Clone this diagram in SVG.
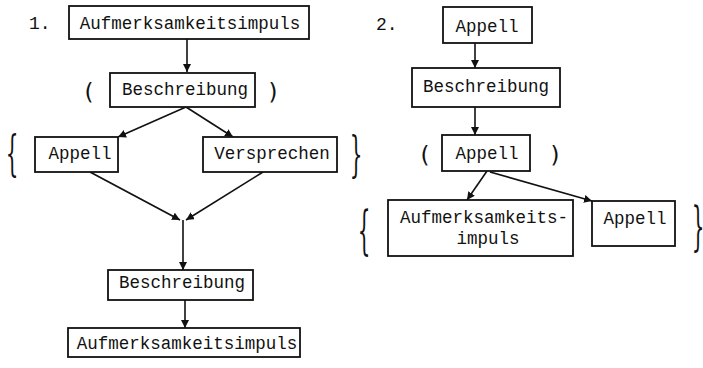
<svg xmlns="http://www.w3.org/2000/svg" width="703" height="368" viewBox="0 0 703 368">
<defs>
<style>
.box{fill:#fff;stroke:#111;stroke-width:1.8}
.t{font-family:"Liberation Mono","DejaVu Sans Mono",monospace;font-size:17.5px;fill:#111;text-anchor:middle}
.num{font-family:"Liberation Mono","DejaVu Sans Mono",monospace;font-size:18px;fill:#111}
.par{font-family:"DejaVu Sans","Liberation Sans",sans-serif;font-size:23px;fill:#111;text-anchor:middle}
.br{font-family:"DejaVu Serif","Liberation Serif",serif;font-size:50px;fill:#111;text-anchor:middle}
.c{stroke:#111;stroke-width:1.6;fill:none;marker-end:url(#ah)}
</style>
<marker id="ah" viewBox="0 0 10 10" refX="10" refY="5" markerWidth="8" markerHeight="8" markerUnits="userSpaceOnUse" orient="auto">
<path d="M0,0 L10,5 L0,10 z" fill="#111"/>
</marker>
</defs>

<g id="connectors">
<line class="c" x1="187" y1="39" x2="187" y2="72"/>
<line class="c" x1="186" y1="107" x2="118" y2="137"/>
<line class="c" x1="186" y1="107" x2="233" y2="137"/>
<line class="c" x1="90" y1="172" x2="180" y2="220"/>
<line class="c" x1="263" y1="172" x2="186" y2="220"/>
<line class="c" x1="183" y1="220" x2="183" y2="270"/>
<line class="c" x1="185" y1="300" x2="185" y2="328"/>
<line class="c" x1="475" y1="43" x2="475" y2="68"/>
<line class="c" x1="475" y1="107" x2="475" y2="135"/>
<line class="c" x1="487" y1="171" x2="467" y2="200"/>
<line class="c" x1="490" y1="172" x2="592" y2="201"/>
</g>

<g id="labels">
<text class="num" x="29" y="29">1.</text>
<text class="num" x="376" y="30">2.</text>
<text class="par" x="89" y="100">(</text>
<text class="par" x="273" y="100">)</text>
<text class="par" x="425" y="163">(</text>
<text class="par" x="555" y="163">)</text>
<text class="br" transform="translate(12,170) scale(0.4,0.97)">{</text>
<text class="br" transform="translate(356,171) scale(0.4,0.97)">}</text>
<text class="br" transform="translate(364,248) scale(0.4,1.05)">{</text>
<text class="br" transform="translate(698,244) scale(0.4,1.05)">}</text>
</g>

<g id="n1"><rect class="box" x="69" y="6" width="240" height="33"/><text class="t" x="190" y="29">Aufmerksamkeitsimpuls</text></g>
<g id="n2"><rect class="box" x="110" y="73" width="145" height="34"/><text class="t" x="185" y="95">Beschreibung</text></g>
<g id="n3"><rect class="box" x="35" y="137" width="83" height="35"/><text class="t" x="80" y="159">Appell</text></g>
<g id="n4"><rect class="box" x="203" y="137" width="134" height="35"/><text class="t" x="272" y="159">Versprechen</text></g>
<g id="n5"><rect class="box" x="108" y="270" width="145" height="30"/><text class="t" x="182" y="288">Beschreibung</text></g>
<g id="n6"><rect class="box" x="68" y="328" width="232" height="29"/><text class="t" x="187" y="349">Aufmerksamkeitsimpuls</text></g>

<g id="m1"><rect class="box" x="443" y="7" width="89" height="36"/><text class="t" x="487" y="32">Appell</text></g>
<g id="m2"><rect class="box" x="412" y="68" width="148" height="39"/><text class="t" x="486" y="92">Beschreibung</text></g>
<g id="m3"><rect class="box" x="442" y="135" width="88" height="36"/><text class="t" x="487" y="159">Appell</text></g>
<g id="m4"><rect class="box" x="388" y="200" width="185" height="56"/><text class="t" x="484" y="223">Aufmerksamkeits-</text><text class="t" x="488" y="244">impuls</text></g>
<g id="m5"><rect class="box" x="592" y="201" width="83" height="45"/><text class="t" x="635" y="224">Appell</text></g>
</svg>
